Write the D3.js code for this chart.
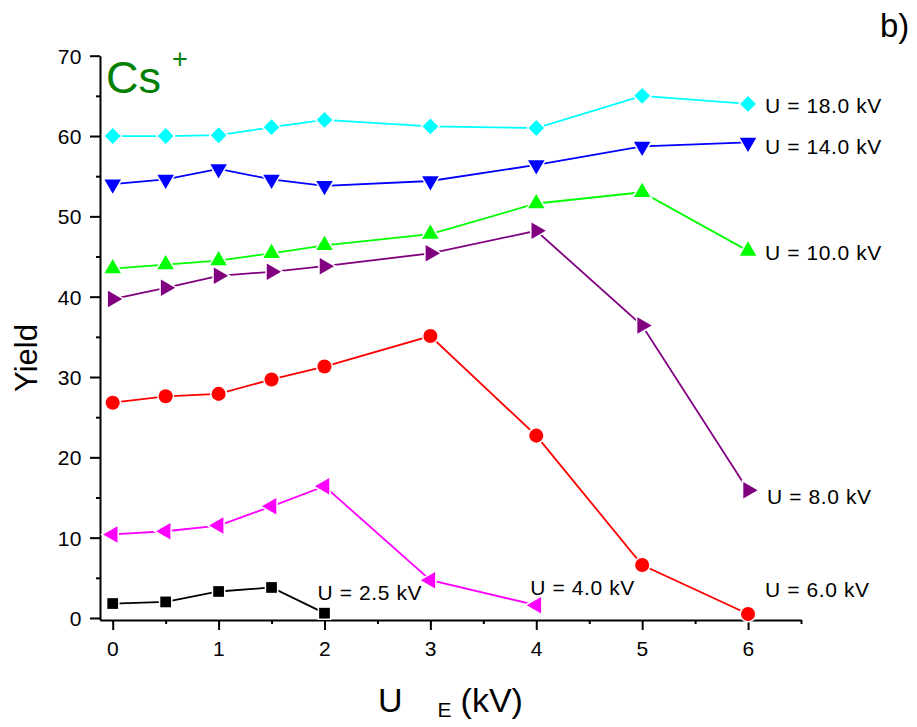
<!DOCTYPE html>
<html>
<head>
<meta charset="utf-8">
<script src="https://cdn.jsdelivr.net/npm/d3@7"></script>
<style>
  html, body { margin: 0; padding: 0; background: #fff; }
  svg text { font-family: Arial, "Liberation Sans", Helvetica, sans-serif; }
</style>
</head>
<body>
<svg id="chart" width="917" height="727"></svg>
<script>
// Extraction voltage U_E (kV)
const xFull = [0, 0.5, 1, 1.5, 2, 3, 4, 5, 6];
const xTo4 = [0, 0.5, 1, 1.5, 2, 3, 4];
const xTo2 = [0, 0.5, 1, 1.5, 2];

// Cs+ yield for each acceleration voltage U
const yield18 = [60.0, 60.0, 60.1, 61.1, 62.0, 61.2, 61.0, 65.0, 64.0];
const yield14 = [54.0, 54.6, 55.9, 54.6, 53.8, 54.4, 56.4, 58.7, 59.2];
const yield10 = [43.5, 44.0, 44.5, 45.4, 46.4, 47.8, 51.6, 53.0, 45.7];
const yield8  = [39.7, 41.1, 42.6, 43.1, 43.8, 45.4, 48.2, 36.4, 15.9];
const yield6  = [26.8, 27.6, 27.9, 29.7, 31.3, 35.1, 22.7, 6.6, 0.5];
const yield4  = [10.4, 10.8, 11.5, 13.9, 16.4, 4.7, 1.6];
const yield25 = [1.8, 2.0, 3.3, 3.8, 0.6];

// Axis ticks
const xMajorTicks = [0, 1, 2, 3, 4, 5, 6];
const xMinorTicks = [0.5, 1.5, 2.5, 3.5, 4.5, 5.5, 6.5];
const yMajorTicks = [0, 10, 20, 30, 40, 50, 60, 70];
const yMinorTicks = [5, 15, 25, 35, 45, 55, 65];

const svg = d3.select("#chart");

const x = d3.scaleLinear().domain([-0.12, 6.5]).range([100, 801]);
const y = d3.scaleLinear().domain([-0.25, 70]).range([620, 55.7]);

const series = [
  { label: "U = 18.0 kV", xs: xFull, ys: yield18, color: "#00FFFF", shape: "diamond" },
  { label: "U = 14.0 kV", xs: xFull, ys: yield14, color: "#0000FF", shape: "down" },
  { label: "U = 10.0 kV", xs: xFull, ys: yield10, color: "#00FF00", shape: "up" },
  { label: "U = 8.0 kV",  xs: xFull, ys: yield8,  color: "#800080", shape: "right" },
  { label: "U = 6.0 kV",  xs: xFull, ys: yield6,  color: "#FF0000", shape: "circle" },
  { label: "U = 4.0 kV",  xs: xTo4,  ys: yield4,  color: "#FF00FF", shape: "left" },
  { label: "U = 2.5 kV",  xs: xTo2,  ys: yield25, color: "#000000", shape: "square" }
];

// Axes
const gx = svg.append("g").attr("transform", "translate(0,620)");
gx.call(d3.axisBottom(x).tickValues(xMajorTicks).tickSize(10).tickSizeOuter(0).tickFormat(d3.format("d")));
gx.append("g").call(d3.axisBottom(x).tickValues(xMinorTicks).tickSize(4).tickSizeOuter(0).tickFormat(""))
  .select(".domain").remove();

const gy = svg.append("g").attr("transform", "translate(100,0)");
gy.call(d3.axisLeft(y).tickValues(yMajorTicks).tickSize(10).tickSizeOuter(0).tickFormat(d3.format("d")));
gy.append("g").call(d3.axisLeft(y).tickValues(yMinorTicks).tickSize(4).tickSizeOuter(0).tickFormat(""))
  .select(".domain").remove();

svg.selectAll(".domain").attr("stroke", "#000").attr("stroke-width", 2);
svg.selectAll(".tick line").attr("stroke", "#000").attr("stroke-width", 2);
svg.selectAll(".tick text")
  .attr("font-family", "Arial, 'Liberation Sans', sans-serif")
  .attr("font-size", 21)
  .attr("letter-spacing", 0.5)
  .attr("fill", "#000");
gx.selectAll(".tick text").attr("dy", null).attr("y", 36);
gy.selectAll(".tick text").attr("x", -18).attr("dy", "0.35em");

// Lines
const line = d3.line().x(d => x(d[0])).y(d => y(d[1]));

const symbolFor = {
  diamond: { type: d3.symbolSquare, size: 125, rot: 45 },
  down:    { type: d3.symbolTriangle, size: 118, rot: 180 },
  up:      { type: d3.symbolTriangle, size: 118, rot: 0 },
  right:   { type: d3.symbolTriangle, size: 118, rot: 90 },
  left:    { type: d3.symbolTriangle, size: 118, rot: -90 },
  circle:  { type: d3.symbolCircle, size: 155, rot: 0 },
  square:  { type: d3.symbolSquare, size: 115, rot: 0 }
};

series.forEach(s => {
  const pts = s.xs.map((v, i) => [v, s.ys[i]]);
  const g = svg.append("g");
  g.append("path")
    .attr("d", line(pts))
    .attr("fill", "none")
    .attr("stroke", s.color)
    .attr("stroke-width", 1.8);
  const sym = symbolFor[s.shape];
  g.selectAll("path.marker")
    .data(pts)
    .join("path")
    .attr("class", "marker")
    .attr("d", d3.symbol().type(sym.type).size(sym.size))
    .attr("transform", d => `translate(${x(d[0])},${y(d[1])}) rotate(${sym.rot})`)
    .attr("fill", s.color)
    .attr("stroke", "#fff")
    .attr("stroke-width", 3)
    .attr("paint-order", "stroke");
});

// Series labels
function seriesLabel(text, px, pyCenter) {
  svg.append("text")
    .attr("x", px)
    .attr("y", pyCenter + 7.5)
    .attr("font-size", 21)
    .attr("letter-spacing", 0.6)
    .attr("fill", "#000")
    .text(text);
}
seriesLabel(series[0].label, x(6) + 17, y(64.0) + 2);
seriesLabel(series[1].label, x(6) + 17, y(59.2) + 4);
seriesLabel(series[2].label, x(6) + 17, y(45.7) + 2);
seriesLabel(series[3].label, x(6) + 19, y(15.9) + 6);
seriesLabel(series[4].label, x(6) + 17, y(0.5) - 24);
seriesLabel(series[5].label, x(4) - 6, y(1.6) - 18);
seriesLabel(series[6].label, x(2) - 7, y(0.6) - 21);

// Axis titles
svg.append("text")
  .attr("transform", "translate(37,358) rotate(-90)")
  .attr("text-anchor", "middle")
  .attr("font-size", 31)
  .attr("fill", "#000")
  .text("Yield");

const xt = svg.append("text")
  .attr("x", 378)
  .attr("y", 712)
  .attr("font-size", 34)
  .attr("fill", "#000");
xt.append("tspan").text("U");
xt.append("tspan").attr("dx", 35).attr("dy", 5).attr("font-size", 21).text("E");
xt.append("tspan").attr("dx", 9).attr("dy", -5).text("(kV)");

// Ion species
const ion = svg.append("text").attr("x", 106).attr("y", 93).attr("fill", "#008000");
ion.append("tspan").attr("font-size", 45).text("Cs");
svg.append("text").attr("x", 172).attr("y", 68).attr("font-size", 27).attr("fill", "#008000").text("+");

// Panel label
svg.append("text").attr("x", 880).attr("y", 37).attr("font-size", 33).attr("fill", "#000").text("b)");
</script>
</body>
</html>
